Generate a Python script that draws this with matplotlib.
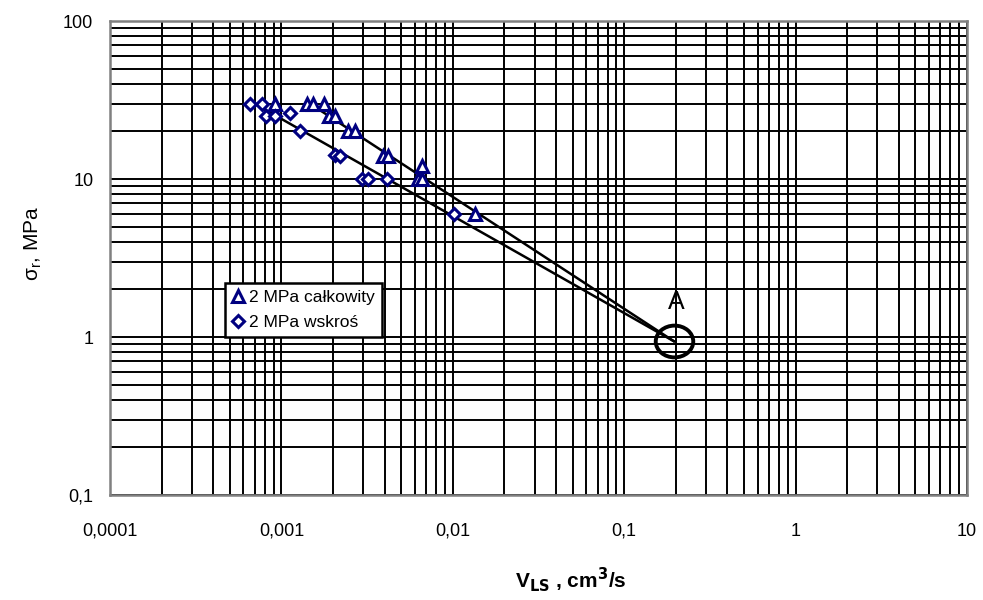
import matplotlib.pyplot as plt
from matplotlib.ticker import LogLocator, FixedFormatter, FixedLocator
from matplotlib.path import Path
import numpy as np

# 2 MPa całkowity (trójkąty)
calk_x = [0.00092, 0.00142, 0.00152, 0.00178, 0.0019, 0.00206, 0.00245, 0.0027,
          0.0039, 0.0042, 0.0063, 0.0066, 0.0066, 0.0135]
calk_y = [30, 30, 30, 30, 25, 25, 20, 20, 14, 14, 10, 10, 12, 6]

# 2 MPa wskroś (romby)
wsk_x = [0.00066, 0.00077, 0.00081, 0.00092, 0.00112, 0.00129, 0.00206, 0.0022,
         0.00297, 0.0032, 0.00415, 0.0101]
wsk_y = [30, 30, 25, 25, 26, 20, 14.2, 14, 10, 10, 10, 6]

# linie trendu do punktu A
calk_line_x = [0.0014, 0.195]
calk_line_y = [31, 0.94]
wsk_line_x = [0.00066, 0.195]
wsk_line_y = [31, 0.94]
punkt_a = (0.195, 0.94)

x_ticks = [1e-4, 1e-3, 1e-2, 1e-1, 1, 10]
x_labels = ['0,0001', '0,001', '0,01', '0,1', '1', '10']
y_ticks = [0.1, 1, 10, 100]
y_labels = ['0,1', '1', '10', '100']

plt.rcParams['font.family'] = ['Liberation Sans', 'DejaVu Sans']

# lekko spłaszczona elipsa jak na oryginale
circ = Path.unit_circle()
ellipse = Path(circ.vertices * np.array([1.18, 1.0]), circ.codes)

fig = plt.figure(figsize=(9.83, 6.0), dpi=100)
ax = fig.add_axes([0.1119, 0.175, 0.8718, 0.790])
ax.set_xscale('log')
ax.set_yscale('log')
ax.set_xlim(1e-4, 10)
ax.set_ylim(0.1, 100)

ax.xaxis.set_major_locator(FixedLocator(x_ticks))
ax.xaxis.set_major_formatter(FixedFormatter(x_labels))
ax.yaxis.set_major_locator(FixedLocator(y_ticks))
ax.yaxis.set_major_formatter(FixedFormatter(y_labels))
ax.xaxis.set_minor_locator(LogLocator(base=10, subs=range(2, 10)))
ax.yaxis.set_minor_locator(LogLocator(base=10, subs=range(2, 10)))
ax.grid(True, which='both', color='black', linewidth=1.4)
ax.tick_params(which='both', length=0, labelsize=13)
ax.tick_params(axis='x', pad=20)
ax.tick_params(axis='y', pad=12)
for s in ax.spines.values():
    s.set_color('#808080')
    s.set_linewidth(1.8)

ax.plot(calk_line_x, calk_line_y, color='black', linewidth=1.8, zorder=3)
ax.plot(wsk_line_x, wsk_line_y, color='black', linewidth=1.8, zorder=3)

ax.plot(calk_x, calk_y, linestyle='none', marker='^', markersize=9,
        markerfacecolor='white', markeredgecolor='#000080', markeredgewidth=2.2,
        label='2 MPa całkowity', zorder=4)
ax.plot(wsk_x, wsk_y, linestyle='none', marker='D', markersize=6.5,
        markerfacecolor='white', markeredgecolor='#000080', markeredgewidth=2.2,
        label='2 MPa wskroś', zorder=4)

ax.plot(*punkt_a, marker=ellipse, markersize=27, markerfacecolor='none',
        markeredgecolor='black', markeredgewidth=2.8, zorder=5)
ax.annotate('A', punkt_a, xytext=(2, 28), textcoords='offset points',
            ha='center', va='center', fontsize=18)

leg = ax.legend(loc='upper left', bbox_to_anchor=(0.134, 0.447), fontsize=12.5,
                frameon=True, fancybox=False, handlelength=0.7, handletextpad=0.3,
                borderpad=0.4, labelspacing=0.55, borderaxespad=0)
leg.get_frame().set_edgecolor('black')
leg.get_frame().set_linewidth(1.8)
leg.get_frame().set_alpha(1)

ax.set_ylabel('σ$_\\mathregular{r}$, MPa', fontsize=15)
ax.yaxis.set_label_coords(-0.09, 0.53)
ax.yaxis.label.set_va('center')
ax.set_xlabel('V$_\\mathbf{LS}$ , cm$^\\mathbf{3}$/s', fontsize=15,
              fontweight='bold')
ax.xaxis.set_label_coords(0.538, -0.179)
ax.xaxis.label.set_va('center')

fig.savefig('out.png', dpi=100)
